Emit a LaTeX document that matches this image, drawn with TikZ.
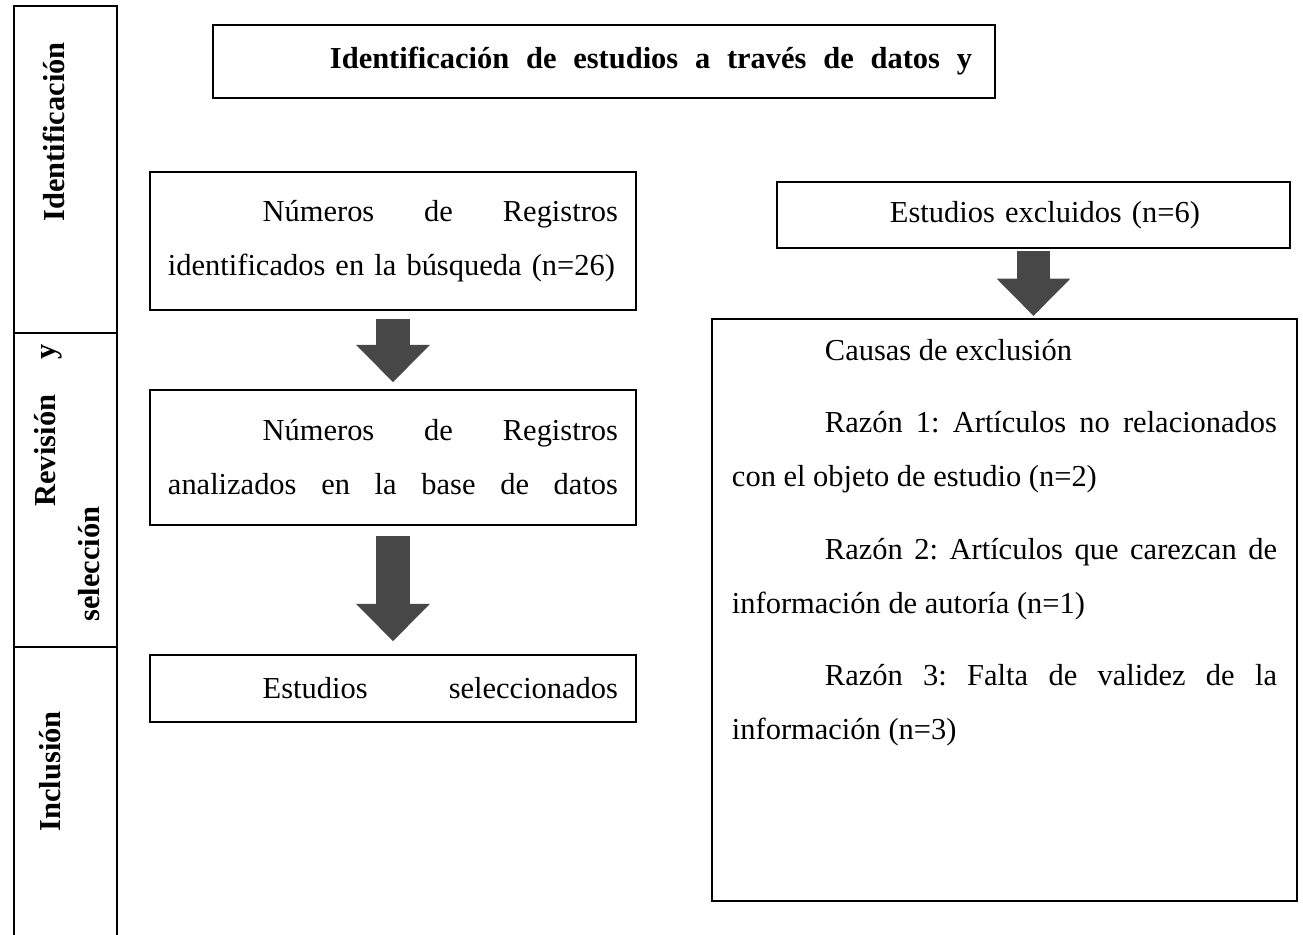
\documentclass[tikz,border=0pt]{standalone}
\usepackage{fontspec}
\setmainfont{Liberation Serif}
\usepackage{tikz}
\usetikzlibrary{arrows.meta}
\tikzstyle{box}=[rectangle,draw=black,line width=0.9pt,inner xsep=0.3cm,inner ysep=0mm,align=left,font=\fontsize{13}{23}\selectfont]
\tikzstyle{lane}=[rectangle,draw=black,line width=0.6pt,inner sep=0mm,minimum width=1.545cm]
\tikzstyle{lanetext}=[rotate=90,anchor=base west,inner sep=0mm,font=\bfseries\fontsize{13}{16}\selectfont]
\tikzstyle{block}=[-{Triangle[width=1.07cm,length=0.56cm]},line width=0.5cm,draw=black!72]
\begin{document}
\begin{tikzpicture}[x=0.015cm,y=-0.015cm]
      \useasboundingbox (0,0) rectangle (1303,935);
      \node[lane,minimum height=4.905cm] at (65.5,169.5) (ident) {};
      \node[lane,minimum height=4.71cm] at (65.5,490) (revis) {};
      \node[lane,minimum height=4.395cm] at (65.5,793.5) (incl) {};
      \node[lanetext] at (64,222) (identtxt) {Identificación};
      \node[lanetext] at (56,507) (revtxt) {\makebox[2.43cm][s]{Revisión y}};
      \node[lanetext] at (100,622) (seltxt) {selección};
      \node[lanetext] at (60,832) (incltxt) {Inclusión};
      \node[box,line width=1.2pt,minimum width=11.73cm,minimum height=1.095cm,text width=11.04cm,font=\bfseries\fontsize{13}{16}\selectfont] at (604,61.5) (title) {\hspace*{1.41cm}Identificación\hfill de\hfill estudios\hfill a\hfill través\hfill de\hfill datos\hfill y};
      \node[box,inner xsep=0.27cm,minimum width=7.29cm,minimum height=2.07cm,text width=6.75cm] at (393,241) (reg) {\hspace*{1.42cm}Números\hfill de\hfill Registros\\\mbox{identificados en la búsqueda (n=26)}};
      \node[box,inner xsep=0.27cm,minimum width=7.29cm,minimum height=2.025cm,text width=6.75cm] at (393,457.5) (anal) {\hspace*{1.42cm}Números\hfill de\hfill Registros\\analizados\hfill en\hfill la\hfill base\hfill de\hfill datos};
      \node[box,inner xsep=0.27cm,minimum width=7.29cm,minimum height=1.005cm,text width=6.75cm] at (393,688.5) (sel) {\hspace*{1.42cm}Estudios\hfill seleccionados};
      \node[box,minimum width=7.695cm,minimum height=0.99cm,text width=7.095cm] at (1033.5,215) (excl) {\hspace*{1.395cm}Estudios excluidos (n=6)};
      \node[box,inner ysep=0.3cm,anchor=north] at (1004.5,318) (causas) {\begin{minipage}[t][8.13cm][t]{8.175cm}
        \setlength{\parskip}{0.28cm}
        \hspace*{1.395cm}Causas de exclusión\par
        \hspace*{1.395cm}Razón\hfill 1:\hfill Artículos\hfill no\hfill relacionados\\
        con el objeto de estudio (n=2)\par
        \hspace*{1.395cm}Razón\hfill 2:\hfill Artículos\hfill que\hfill carezcan\hfill de\\
        información de autoría (n=1)\par
        \hspace*{1.395cm}Razón\hfill 3:\hfill Falta\hfill de\hfill validez\hfill de\hfill la\\
        información (n=3)
      \end{minipage}};
      \draw[block,shorten <=0.12cm,shorten >=0.1cm] (reg.south) -- (anal.north);
      \draw[block,shorten <=0.15cm,shorten >=0.19cm] (anal.south) -- (sel.north);
      \draw[block,shorten <=0.03cm,shorten >=0.03cm] (excl.south) -- (excl.south |- causas.north);
    \end{tikzpicture}
\end{document}
